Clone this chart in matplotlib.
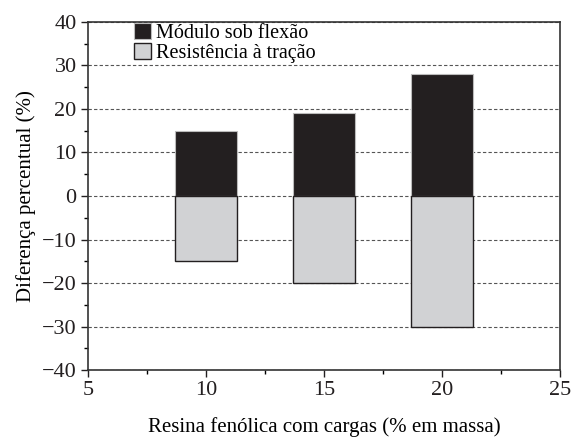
import matplotlib
matplotlib.use('Agg')
import matplotlib.pyplot as plt
from matplotlib.ticker import MultipleLocator

plt.rcParams['font.family'] = ['Liberation Serif', 'DejaVu Serif']

# Data
resina = [10, 15, 20]
modulo_flexao = [15, 19, 28]
resistencia_tracao = [-15, -20, -30]

fig, ax = plt.subplots(figsize=(5.74, 4.37), dpi=100)
fig.subplots_adjust(left=0.153, right=0.976, top=0.95, bottom=0.153)

ax.bar(resina, modulo_flexao, width=2.65, color='#231f20', edgecolor='#bbbbbb',
       linewidth=0.8, label='Módulo sob flexão', zorder=3)
ax.bar(resina, resistencia_tracao, width=2.65, color='#d1d2d4', edgecolor='#231f20',
       linewidth=1.0, label='Resistência à tração', zorder=3)

ax.set_xlim(5, 25)
ax.set_ylim(-40, 40)
ax.xaxis.set_major_locator(MultipleLocator(5))
ax.xaxis.set_minor_locator(MultipleLocator(2.5))
ax.yaxis.set_major_locator(MultipleLocator(10))
ax.yaxis.set_minor_locator(MultipleLocator(5))
ax.set_yticks(range(-40, 41, 10))
ax.set_yticklabels(['\u221240', '\u221230', '\u221220', '\u221210', '0', '10', '20', '30', '40'])

ax.tick_params(axis='both', which='major', direction='out', length=5, width=1,
               labelsize=16, colors='#231f20', pad=3)
ax.tick_params(axis='both', which='minor', direction='out', length=3, width=1)
for s in ax.spines.values():
    s.set_linewidth(1.2)
    s.set_color('#333333')

ax.grid(axis='y', which='major', linestyle=(0, (3, 2)), color='#555555', linewidth=0.8, zorder=0)

ax.set_xlabel('Resina fenólica com cargas (% em massa)', fontsize=15, labelpad=12)
ax.set_ylabel('Diferença percentual (%)', fontsize=15, labelpad=4)

leg = ax.legend(loc='upper left', bbox_to_anchor=(0.085, 1.015), frameon=False, fontsize=14.5,
                handlelength=0.85, handleheight=0.85, handletextpad=0.25, labelspacing=0.0,
                borderpad=0.2, borderaxespad=0.1)

fig.savefig('out.png', dpi=100)
